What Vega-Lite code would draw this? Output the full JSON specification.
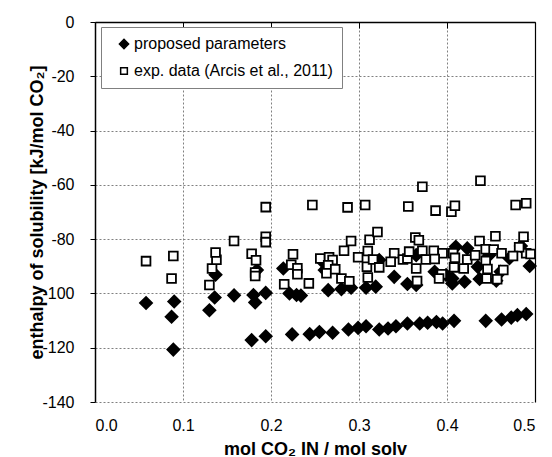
{
  "$schema": "https://vega.github.io/schema/vega-lite/v6.json",
  "width": 440,
  "height": 380,
  "autosize": {"type": "none"},
  "padding": {"left": 95, "top": 22, "right": 17, "bottom": 55},
  "background": "white",
  "config": {
    "view": {"stroke": null},
    "font": "Liberation Sans",
    "axis": {
      "labelFont": "Liberation Sans",
      "labelFontSize": 16,
      "labelColor": "black",
      "titleFont": "Liberation Sans",
      "titleFontSize": 18,
      "titleFontWeight": "bold",
      "titleColor": "black",
      "gridColor": "#808080",
      "gridDash": [2, 2],
      "gridWidth": 1,
      "domainColor": "black",
      "tickColor": "black"
    },
    "legend": {
      "orient": "none", "legendX": 6, "legendY": 5,
      "padding": 9, "strokeColor": "#808080", "fillColor": "white",
      "labelFont": "Liberation Sans", "labelFontSize": 16, "labelColor": "black",
      "symbolSize": 70, "symbolStrokeWidth": 1.5,
      "symbolOffset": 6, "labelOffset": 2, "rowPadding": 11, "labelLimit": 400
    }
  },
  "data": {
    "values": [
      {"x":0.058,"y":-103.5,"s":"proposed parameters"},
      {"x":0.090,"y":-103.0,"s":"proposed parameters"},
      {"x":0.087,"y":-108.6,"s":"proposed parameters"},
      {"x":0.089,"y":-120.7,"s":"proposed parameters"},
      {"x":0.136,"y":-101.5,"s":"proposed parameters"},
      {"x":0.130,"y":-106.2,"s":"proposed parameters"},
      {"x":0.137,"y":-93.1,"s":"proposed parameters"},
      {"x":0.158,"y":-100.7,"s":"proposed parameters"},
      {"x":0.180,"y":-100.6,"s":"proposed parameters"},
      {"x":0.182,"y":-103.3,"s":"proposed parameters"},
      {"x":0.194,"y":-99.8,"s":"proposed parameters"},
      {"x":0.184,"y":-91.4,"s":"proposed parameters"},
      {"x":0.178,"y":-117.2,"s":"proposed parameters"},
      {"x":0.194,"y":-115.8,"s":"proposed parameters"},
      {"x":0.214,"y":-90.8,"s":"proposed parameters"},
      {"x":0.221,"y":-100.0,"s":"proposed parameters"},
      {"x":0.229,"y":-100.6,"s":"proposed parameters"},
      {"x":0.224,"y":-115.1,"s":"proposed parameters"},
      {"x":0.244,"y":-115.0,"s":"proposed parameters"},
      {"x":0.255,"y":-114.2,"s":"proposed parameters"},
      {"x":0.270,"y":-114.5,"s":"proposed parameters"},
      {"x":0.288,"y":-113.3,"s":"proposed parameters"},
      {"x":0.299,"y":-112.7,"s":"proposed parameters"},
      {"x":0.308,"y":-112.1,"s":"proposed parameters"},
      {"x":0.323,"y":-113.3,"s":"proposed parameters"},
      {"x":0.333,"y":-112.9,"s":"proposed parameters"},
      {"x":0.342,"y":-112.1,"s":"proposed parameters"},
      {"x":0.355,"y":-111.1,"s":"proposed parameters"},
      {"x":0.369,"y":-111.1,"s":"proposed parameters"},
      {"x":0.378,"y":-110.8,"s":"proposed parameters"},
      {"x":0.388,"y":-110.5,"s":"proposed parameters"},
      {"x":0.395,"y":-111.1,"s":"proposed parameters"},
      {"x":0.408,"y":-110.1,"s":"proposed parameters"},
      {"x":0.444,"y":-110.1,"s":"proposed parameters"},
      {"x":0.462,"y":-109.6,"s":"proposed parameters"},
      {"x":0.473,"y":-108.9,"s":"proposed parameters"},
      {"x":0.480,"y":-108.0,"s":"proposed parameters"},
      {"x":0.490,"y":-107.6,"s":"proposed parameters"},
      {"x":0.234,"y":-100.8,"s":"proposed parameters"},
      {"x":0.265,"y":-98.8,"s":"proposed parameters"},
      {"x":0.280,"y":-98.4,"s":"proposed parameters"},
      {"x":0.291,"y":-97.9,"s":"proposed parameters"},
      {"x":0.308,"y":-97.9,"s":"proposed parameters"},
      {"x":0.319,"y":-97.5,"s":"proposed parameters"},
      {"x":0.261,"y":-91.4,"s":"proposed parameters"},
      {"x":0.323,"y":-87.7,"s":"proposed parameters"},
      {"x":0.340,"y":-93.9,"s":"proposed parameters"},
      {"x":0.355,"y":-96.5,"s":"proposed parameters"},
      {"x":0.365,"y":-96.9,"s":"proposed parameters"},
      {"x":0.386,"y":-92.0,"s":"proposed parameters"},
      {"x":0.406,"y":-94.5,"s":"proposed parameters"},
      {"x":0.406,"y":-96.3,"s":"proposed parameters"},
      {"x":0.420,"y":-95.7,"s":"proposed parameters"},
      {"x":0.410,"y":-82.8,"s":"proposed parameters"},
      {"x":0.423,"y":-83.4,"s":"proposed parameters"},
      {"x":0.435,"y":-90.2,"s":"proposed parameters"},
      {"x":0.437,"y":-94.7,"s":"proposed parameters"},
      {"x":0.456,"y":-95.3,"s":"proposed parameters"},
      {"x":0.461,"y":-92.0,"s":"proposed parameters"},
      {"x":0.494,"y":-89.9,"s":"proposed parameters"},
      {"x":0.484,"y":-82.5,"s":"proposed parameters"},
      {"x":0.259,"y":-88.4,"s":"proposed parameters"},
      {"x":0.365,"y":-85.9,"s":"proposed parameters"},
      {"x":0.399,"y":-93.2,"s":"proposed parameters"},
      {"x":0.471,"y":-87.0,"s":"proposed parameters"},
      {"x":0.448,"y":-85.9,"s":"proposed parameters"},
      {"x":0.058,"y":-88.1,"s":"exp. data (Arcis et al., 2011)"},
      {"x":0.089,"y":-86.2,"s":"exp. data (Arcis et al., 2011)"},
      {"x":0.087,"y":-94.5,"s":"exp. data (Arcis et al., 2011)"},
      {"x":0.130,"y":-96.9,"s":"exp. data (Arcis et al., 2011)"},
      {"x":0.133,"y":-90.8,"s":"exp. data (Arcis et al., 2011)"},
      {"x":0.138,"y":-87.6,"s":"exp. data (Arcis et al., 2011)"},
      {"x":0.137,"y":-84.9,"s":"exp. data (Arcis et al., 2011)"},
      {"x":0.158,"y":-80.7,"s":"exp. data (Arcis et al., 2011)"},
      {"x":0.178,"y":-85.4,"s":"exp. data (Arcis et al., 2011)"},
      {"x":0.183,"y":-87.8,"s":"exp. data (Arcis et al., 2011)"},
      {"x":0.182,"y":-92.3,"s":"exp. data (Arcis et al., 2011)"},
      {"x":0.182,"y":-93.6,"s":"exp. data (Arcis et al., 2011)"},
      {"x":0.194,"y":-68.2,"s":"exp. data (Arcis et al., 2011)"},
      {"x":0.194,"y":-79.1,"s":"exp. data (Arcis et al., 2011)"},
      {"x":0.194,"y":-81.1,"s":"exp. data (Arcis et al., 2011)"},
      {"x":0.225,"y":-85.6,"s":"exp. data (Arcis et al., 2011)"},
      {"x":0.223,"y":-89.4,"s":"exp. data (Arcis et al., 2011)"},
      {"x":0.230,"y":-90.7,"s":"exp. data (Arcis et al., 2011)"},
      {"x":0.230,"y":-92.9,"s":"exp. data (Arcis et al., 2011)"},
      {"x":0.215,"y":-96.6,"s":"exp. data (Arcis et al., 2011)"},
      {"x":0.243,"y":-96.3,"s":"exp. data (Arcis et al., 2011)"},
      {"x":0.247,"y":-67.4,"s":"exp. data (Arcis et al., 2011)"},
      {"x":0.287,"y":-68.3,"s":"exp. data (Arcis et al., 2011)"},
      {"x":0.307,"y":-67.4,"s":"exp. data (Arcis et al., 2011)"},
      {"x":0.291,"y":-80.7,"s":"exp. data (Arcis et al., 2011)"},
      {"x":0.283,"y":-84.3,"s":"exp. data (Arcis et al., 2011)"},
      {"x":0.312,"y":-80.2,"s":"exp. data (Arcis et al., 2011)"},
      {"x":0.321,"y":-77.4,"s":"exp. data (Arcis et al., 2011)"},
      {"x":0.256,"y":-87.1,"s":"exp. data (Arcis et al., 2011)"},
      {"x":0.266,"y":-86.7,"s":"exp. data (Arcis et al., 2011)"},
      {"x":0.270,"y":-87.7,"s":"exp. data (Arcis et al., 2011)"},
      {"x":0.265,"y":-89.6,"s":"exp. data (Arcis et al., 2011)"},
      {"x":0.263,"y":-92.6,"s":"exp. data (Arcis et al., 2011)"},
      {"x":0.273,"y":-91.1,"s":"exp. data (Arcis et al., 2011)"},
      {"x":0.280,"y":-94.5,"s":"exp. data (Arcis et al., 2011)"},
      {"x":0.289,"y":-95.5,"s":"exp. data (Arcis et al., 2011)"},
      {"x":0.299,"y":-86.7,"s":"exp. data (Arcis et al., 2011)"},
      {"x":0.310,"y":-84.4,"s":"exp. data (Arcis et al., 2011)"},
      {"x":0.309,"y":-90.2,"s":"exp. data (Arcis et al., 2011)"},
      {"x":0.316,"y":-87.5,"s":"exp. data (Arcis et al., 2011)"},
      {"x":0.323,"y":-90.4,"s":"exp. data (Arcis et al., 2011)"},
      {"x":0.310,"y":-94.1,"s":"exp. data (Arcis et al., 2011)"},
      {"x":0.340,"y":-85.2,"s":"exp. data (Arcis et al., 2011)"},
      {"x":0.336,"y":-88.3,"s":"exp. data (Arcis et al., 2011)"},
      {"x":0.350,"y":-87.5,"s":"exp. data (Arcis et al., 2011)"},
      {"x":0.355,"y":-87.1,"s":"exp. data (Arcis et al., 2011)"},
      {"x":0.356,"y":-68.0,"s":"exp. data (Arcis et al., 2011)"},
      {"x":0.372,"y":-60.7,"s":"exp. data (Arcis et al., 2011)"},
      {"x":0.387,"y":-69.5,"s":"exp. data (Arcis et al., 2011)"},
      {"x":0.405,"y":-69.9,"s":"exp. data (Arcis et al., 2011)"},
      {"x":0.409,"y":-67.7,"s":"exp. data (Arcis et al., 2011)"},
      {"x":0.438,"y":-58.5,"s":"exp. data (Arcis et al., 2011)"},
      {"x":0.478,"y":-67.4,"s":"exp. data (Arcis et al., 2011)"},
      {"x":0.490,"y":-66.8,"s":"exp. data (Arcis et al., 2011)"},
      {"x":0.364,"y":-79.4,"s":"exp. data (Arcis et al., 2011)"},
      {"x":0.368,"y":-80.4,"s":"exp. data (Arcis et al., 2011)"},
      {"x":0.437,"y":-80.7,"s":"exp. data (Arcis et al., 2011)"},
      {"x":0.455,"y":-78.9,"s":"exp. data (Arcis et al., 2011)"},
      {"x":0.487,"y":-79.1,"s":"exp. data (Arcis et al., 2011)"},
      {"x":0.357,"y":-84.6,"s":"exp. data (Arcis et al., 2011)"},
      {"x":0.372,"y":-84.3,"s":"exp. data (Arcis et al., 2011)"},
      {"x":0.385,"y":-84.3,"s":"exp. data (Arcis et al., 2011)"},
      {"x":0.395,"y":-85.2,"s":"exp. data (Arcis et al., 2011)"},
      {"x":0.407,"y":-85.2,"s":"exp. data (Arcis et al., 2011)"},
      {"x":0.376,"y":-87.5,"s":"exp. data (Arcis et al., 2011)"},
      {"x":0.386,"y":-87.3,"s":"exp. data (Arcis et al., 2011)"},
      {"x":0.409,"y":-86.9,"s":"exp. data (Arcis et al., 2011)"},
      {"x":0.423,"y":-87.5,"s":"exp. data (Arcis et al., 2011)"},
      {"x":0.432,"y":-85.9,"s":"exp. data (Arcis et al., 2011)"},
      {"x":0.444,"y":-83.7,"s":"exp. data (Arcis et al., 2011)"},
      {"x":0.444,"y":-88.0,"s":"exp. data (Arcis et al., 2011)"},
      {"x":0.453,"y":-83.8,"s":"exp. data (Arcis et al., 2011)"},
      {"x":0.462,"y":-85.2,"s":"exp. data (Arcis et al., 2011)"},
      {"x":0.365,"y":-90.8,"s":"exp. data (Arcis et al., 2011)"},
      {"x":0.408,"y":-90.4,"s":"exp. data (Arcis et al., 2011)"},
      {"x":0.419,"y":-90.8,"s":"exp. data (Arcis et al., 2011)"},
      {"x":0.446,"y":-91.0,"s":"exp. data (Arcis et al., 2011)"},
      {"x":0.464,"y":-91.4,"s":"exp. data (Arcis et al., 2011)"},
      {"x":0.394,"y":-92.9,"s":"exp. data (Arcis et al., 2011)"},
      {"x":0.366,"y":-95.4,"s":"exp. data (Arcis et al., 2011)"},
      {"x":0.391,"y":-94.5,"s":"exp. data (Arcis et al., 2011)"},
      {"x":0.445,"y":-94.5,"s":"exp. data (Arcis et al., 2011)"},
      {"x":0.457,"y":-94.8,"s":"exp. data (Arcis et al., 2011)"},
      {"x":0.490,"y":-85.2,"s":"exp. data (Arcis et al., 2011)"},
      {"x":0.495,"y":-85.5,"s":"exp. data (Arcis et al., 2011)"},
      {"x":0.482,"y":-83.0,"s":"exp. data (Arcis et al., 2011)"},
      {"x":0.475,"y":-86.2,"s":"exp. data (Arcis et al., 2011)"}
    ]
  },
  "layer": [
    {
      "mark": {"type": "point", "filled": true, "strokeWidth": 1.8, "opacity": 1, "size": 120},
      "encoding": {
        "x": {
          "field": "x", "type": "quantitative",
          "scale": {"domain": [0, 0.5], "nice": false, "zero": false},
          "axis": {
            "orient": "bottom", "values": [0, 0.1, 0.2, 0.3, 0.4, 0.5], "format": ".1f",
            "domain": false, "ticks": false, "tickSize": 0, "labelPadding": 15,
            "grid": true, "title": "mol CO₂ IN / mol solv", "titlePadding": 7
          }
        },
        "y": {
          "field": "y", "type": "quantitative",
          "scale": {"domain": [-140, 0], "nice": false, "zero": false},
          "axis": {
            "orient": "left", "values": [-140, -120, -100, -80, -60, -40, -20, 0],
            "labelExpr": "toString(datum.value)",
            "domain": true, "domainWidth": 1.5, "ticks": true, "tickSize": 5, "labelPadding": 16,
            "grid": true, "title": "enthalpy of solubility [kJ/mol CO₂]", "titlePadding": -5
          }
        },
        "shape": {
          "field": "s", "type": "nominal",
          "scale": {"domain": ["proposed parameters", "exp. data (Arcis et al., 2011)"], "range": ["M-1.1,0L0,-1.1L1.1,0L0,1.1Z", "M-0.8,-0.8H0.8V0.8H-0.8Z"]},
          "legend": {"title": null}
        },
        "fill": {
          "field": "s", "type": "nominal",
          "scale": {"domain": ["proposed parameters", "exp. data (Arcis et al., 2011)"], "range": ["black", "white"]},
          "legend": {"title": null}
        },
        "stroke": {
          "field": "s", "type": "nominal",
          "scale": {"domain": ["proposed parameters", "exp. data (Arcis et al., 2011)"], "range": ["black", "black"]},
          "legend": {"title": null}
        }
      }
    },
    {
      "mark": {"type": "point", "opacity": 0},
      "encoding": {
        "x": {
          "field": "x", "type": "quantitative",
          "axis": {
            "orient": "top", "values": [0, 0.1, 0.2, 0.3, 0.4, 0.5], "labels": false,
            "domain": true, "domainWidth": 1.5, "ticks": true, "tickSize": -6,
            "grid": false, "title": null
          }
        },
        "y": {
          "field": "y", "type": "quantitative",
          "axis": {
            "orient": "right", "labels": false, "domain": true, "domainWidth": 1.2,
            "ticks": false, "grid": false, "title": null
          }
        }
      }
    }
  ],
  "resolve": {"axis": {"x": "independent", "y": "independent"}}
}
